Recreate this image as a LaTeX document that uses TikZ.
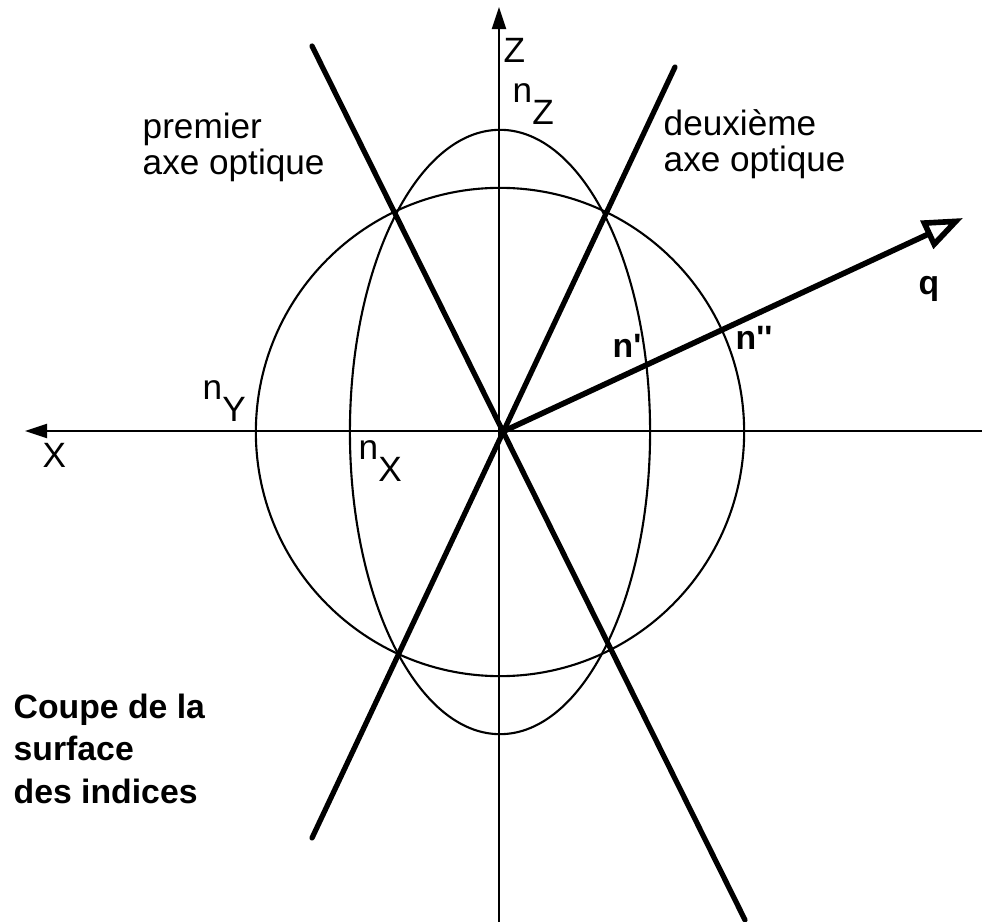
\documentclass[tikz,border=0pt]{standalone}
\usepackage{fontspec}
\setmainfont{Liberation Sans}
\usetikzlibrary{arrows.meta}
\tikzset{
  thin line/.style={line width=0.6pt},
  thick line/.style={line width=1.5pt, line cap=round},
  axis/.style={thin line, -{Triangle[length=2.2mm,width=1.4mm]}},
  lbl/.style={inner sep=0pt, anchor=base west, font=\fontsize{10}{10.5}\selectfont},
  blbl/.style={inner sep=0pt, anchor=base west, font=\fontsize{9.6}{12}\selectfont\bfseries},
}
\newcommand{\lowsub}[1]{\raisebox{-2.1mm}{#1}}
\begin{document}
\begin{tikzpicture}[x=0.01cm, y=-0.01cm]
\useasboundingbox (0,0) rectangle (982,922);
% coordinates
\coordinate (O) at (500,432);
\coordinate (C) at (502,432);
\coordinate (Xs) at (982,431);
\coordinate (Xt) at (25,431);
\coordinate (Zs) at (499,922);
\coordinate (Zt) at (499,7);
\coordinate (A1a) at (312,46);
\coordinate (A1b) at (745,920);
\coordinate (A2a) at (675,67);
\coordinate (A2b) at (312,838);
\coordinate (Q) at (963,218);
% axes
\draw[axis] (Xs) -- (Xt);
\draw[axis] (Zs) -- (Zt);
% index surfaces
\draw[thin line] (O) circle[radius=2.44cm];
\draw[thin line] (O) ellipse[x radius=1.5cm, y radius=3.02cm];
% optical axes
\draw[thick line] (A1a) -- (A1b);
\draw[thick line] (A2a) -- (A2b);
% q direction
\draw[line width=1.6pt, -{Triangle[open,length=4mm,width=3mm]}] (C) -- (Q);
% labels
\node[lbl] (lZ) at (503,63) {Z};
\node[lbl] (lnZ) at (512,103) {n\lowsub{Z}};
\node[lbl, align=left] (lp) at (142,175) {premier\\axe optique};
\node[lbl, align=left] (ld) at (663,172) {deuxième\\axe optique};
\node[lbl] (lnY) at (202,400) {n\lowsub{Y}};
\node[lbl] (lX) at (42,468) {X};
\node[lbl] (lnX) at (358,460) {n\lowsub{X}};
\node[blbl] (lq) at (918,295) {q};
\node[blbl] (lnpp) at (735,350) {n\textquotesingle\textquotesingle};
\node[blbl] (lnp) at (612,358) {n\textquotesingle};
\node[blbl, align=left] (lc) at (13,803) {Coupe de la\\surface\\des indices};
\end{tikzpicture}
\end{document}
